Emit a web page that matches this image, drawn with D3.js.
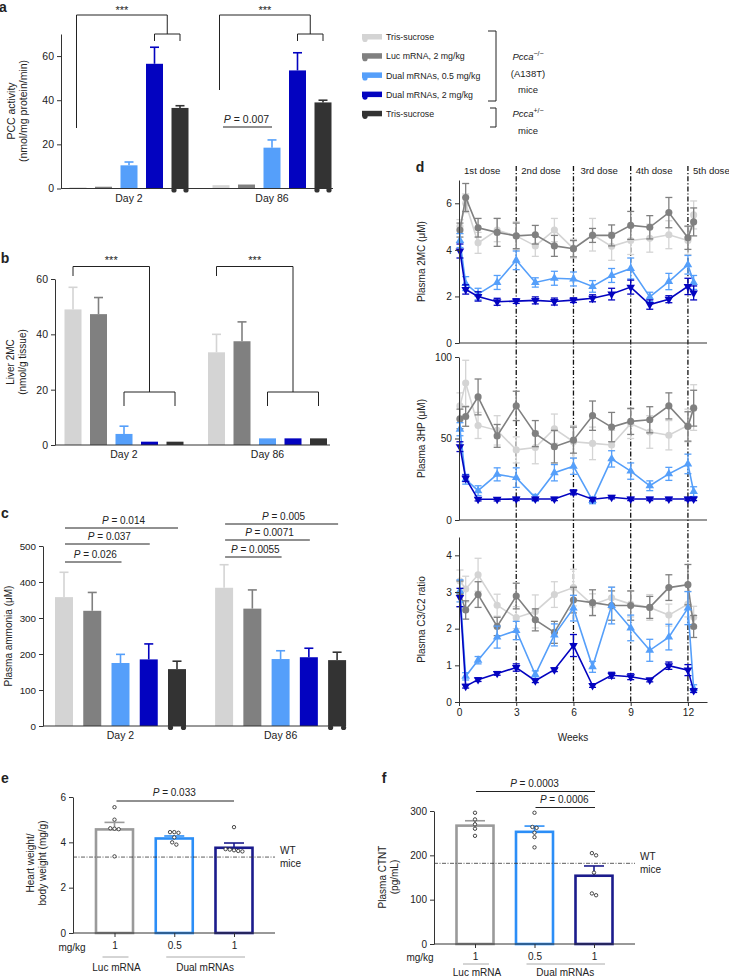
<!DOCTYPE html>
<meta charset="utf-8">
<script src="https://d3js.org/d3.v7.min.js"></script>
<style>
body { margin: 0; background: #fff; }
text { font-family: "Liberation Sans", Arial, sans-serif; fill: #222; }
</style>
<div id="fig"></div>
<script>

// ---- data ----
const days = ["Day 2", "Day 86"];
const groups = ["Tris-sucrose", "Luc mRNA, 2 mg/kg", "Dual mRNAs, 0.5 mg/kg", "Dual mRNAs, 2 mg/kg", "Tris-sucrose"];
const colours = ["#d4d4d4", "#808080", "#559ffa", "#0303c0", "#333333"];

// panel a: PCC activity (mean, error), per day
const pccMean = [[0.5, 0.8, 10.5, 56.5, 36.5], [1.5, 1.8, 18.5, 53.5, 39]];
const pccErr  = [[0, 0, 1.5, 7.5, 1], [0, 0, 3.5, 8, 1]];

// panel b: liver 2MC
const liverMean = [[49, 47.3, 4, 1.2, 1.2], [33.5, 37.5, 2.4, 2.4, 2.4]];
const liverErr  = [[8, 6, 2.8, 0, 0], [6.5, 7, 0, 0, 0]];

// panel c: plasma ammonia
const ammMean = [[358, 320, 175, 185, 158], [384, 326, 186, 191, 183]];
const ammErr  = [[69, 51, 24, 43, 22], [64, 52, 23, 25, 22]];
const ammP = [["0.026", "0.037", "0.014"], ["0.0055", "0.0071", "0.005"]];

// panel d: time course (weeks)
const weeks = [0.05, 0.35, 1, 2, 3, 4, 5, 6, 7, 8, 9, 10, 11, 12, 12.3];
const doses = ["1st dose", "2nd dose", "3rd dose", "4th dose", "5th dose"];
const doseWeeks = [3, 6, 9, 12];

const mc2 = [
  [5.0, 6.0, 4.3, 4.85, 4.6, 4.17, 4.85, 4.05, 4.65, 4.15, 4.4, 4.5, 4.65, 4.4, 5.5],
  [4.85, 6.25, 4.95, 4.75, 4.6, 4.65, 4.17, 4.05, 4.62, 4.62, 5.05, 4.97, 5.6, 4.52, 5.2],
  [4.4, 2.55, 2.1, 2.6, 3.55, 2.6, 2.78, 2.75, 2.43, 2.9, 3.2, 1.98, 2.64, 3.36, 2.6],
  [3.95, 2.3, 2.0, 1.77, 1.8, 1.83, 1.78, 1.84, 1.92, 2.1, 2.4, 1.65, 1.88, 2.43, 2.15]
];
const mc2Err = [
  [0.3, 0.4, 0.45, 0.5, 0.6, 0.45, 0.5, 0.4, 0.7, 0.6, 0.6, 0.6, 0.6, 0.6, 0.6],
  [0.3, 0.6, 0.4, 0.6, 0.55, 0.4, 0.45, 0.35, 0.3, 0.45, 0.6, 0.5, 0.65, 0.5, 0.6],
  [0.3, 0.3, 0.25, 0.3, 0.4, 0.2, 0.3, 0.3, 0.25, 0.3, 0.45, 0.2, 0.35, 0.4, 0.3],
  [0.3, 0.2, 0.2, 0.15, 0.1, 0.15, 0.15, 0.1, 0.15, 0.25, 0.3, 0.2, 0.15, 0.35, 0.3]
];
const hp3 = [
  [70, 84, 58, 55, 43, 44.5, 56, 48, 47, 46, 59, 54, 52, 58, 69],
  [62, 63.5, 75.5, 51.6, 70, 53, 45, 49, 64, 57, 60.5, 61.5, 70, 57.4, 68.6],
  [55.7, 25, 18, 28, 26, 13.7, 29, 33, 12, 37.5, 30, 21, 28.3, 34.4, 17.4],
  [45, 25.6, 12.7, 12.7, 12.9, 12.9, 12.9, 17, 12.7, 14, 12.9, 12.9, 12.9, 12.9, 12.9]
];
const hp3Err = [
  [8, 14, 8, 9, 8, 10, 9, 10, 10, 9, 9, 10, 9, 10, 14],
  [6, 6, 11, 7, 9, 8, 10, 8, 9, 9, 8, 8, 8, 9, 11],
  [4, 3, 3, 4, 6, 2, 5, 5, 2, 5, 5, 3, 4, 6, 3],
  [3, 2, 1, 1, 1, 1, 1, 1.5, 1, 1, 1, 1, 1, 1, 1]
];
const c3c2 = [
  [3.3, 3.08, 3.47, 2.64, 2.3, 2.47, 2.93, 3.12, 2.65, 2.84, 2.67, 2.58, 2.37, 2.67, 2.31],
  [2.95, 2.51, 2.93, 2.06, 2.89, 2.24, 1.9, 2.78, 2.71, 2.63, 2.63, 2.58, 3.12, 3.2, 2.06],
  [3.03, 0.7, 1.14, 1.77, 1.95, 0.75, 1.83, 2.56, 0.96, 2.63, 2.02, 1.41, 1.77, 2.56, 0.37],
  [2.85, 0.43, 0.61, 0.78, 0.94, 0.58, 0.88, 1.54, 0.45, 0.73, 0.69, 0.6, 0.99, 0.87, 0.31]
];
const c3c2Err = [
  [0.3, 0.35, 0.45, 0.3, 0.3, 0.45, 0.35, 0.5, 0.3, 0.3, 0.35, 0.35, 0.3, 0.35, 0.3],
  [0.35, 0.25, 0.35, 0.25, 0.35, 0.3, 0.3, 0.35, 0.35, 0.4, 0.4, 0.3, 0.35, 0.55, 0.3],
  [0.3, 0.1, 0.1, 0.3, 0.25, 0.1, 0.3, 0.35, 0.15, 0.5, 0.35, 0.3, 0.35, 0.45, 0.1],
  [0.25, 0.05, 0.05, 0.05, 0.1, 0.05, 0.05, 0.3, 0.05, 0.08, 0.08, 0.05, 0.1, 0.15, 0.05]
];

// panels e and f
const doseGroups = ["1", "0.5", "1"];
const efColours = ["#9a9a9a", "#2b8ef7", "#1b1b8c"];
const heartMean = [4.57, 4.17, 3.76];
const heartErr  = [0.31, 0.11, 0.21];
const heartDots = [[5.55, 5.0, 4.58, 4.6, 4.62, 3.38], [4.45, 4.42, 4.45, 4.22, 4.0, 3.9], [4.67, 3.68, 3.62, 3.65, 3.7, 3.6]];
const heartWT = 3.35;
const ctntMean = [267, 253, 154];
const ctntErr  = [11, 13, 22];
const ctntDots = [[296, 281, 270, 260, 244], [296, 264, 262, 251, 241, 218], [205, 200, 161, 114, 110]];
const ctntWT = 182;

// ---- drawing ----
const svg = d3.select("#fig").append("svg")
  .attr("width", 729).attr("height", 977);

function styleAxis(g, size) {
  g.attr("font-family", null).attr("font-size", null);
  g.select(".domain").attr("stroke", "#333");
  g.selectAll(".tick line").attr("stroke", "#333");
  g.selectAll(".tick text").attr("font-size", size || 10).attr("fill", "#222");
}

function yAxis(scale, x, ticks, size) {
  const g = svg.append("g").attr("transform", `translate(${x},0)`)
    .call(d3.axisLeft(scale).tickValues(ticks).tickFormat(d3.format("~g"))
      .tickSize(4).tickSizeOuter(0).tickPadding(3));
  styleAxis(g, size);
  return g;
}

function hline(x1, x2, y, col, w) {
  svg.append("line").attr("x1", x1).attr("x2", x2).attr("y1", y).attr("y2", y)
    .attr("stroke", col || "#222").attr("stroke-width", w || 1);
}
function vline(x, y1, y2, col, w) {
  svg.append("line").attr("x1", x).attr("x2", x).attr("y1", y1).attr("y2", y2)
    .attr("stroke", col || "#222").attr("stroke-width", w || 1);
}
function label(x, y, txt, opt) {
  opt = opt || {};
  const t = svg.append("text").attr("x", x).attr("y", y)
    .attr("font-size", opt.size || 10)
    .attr("text-anchor", opt.anchor || "middle")
    .text(txt);
  if (opt.bold) t.attr("font-weight", "bold");
  if (opt.rotate) t.attr("transform", `rotate(-90,${x},${y})`);
  return t;
}
function pLabel(x, y, val, size) {
  const t = svg.append("text").attr("x", x).attr("y", y)
    .attr("font-size", size || 10).attr("text-anchor", "middle");
  t.append("tspan").attr("font-style", "italic").text("P");
  t.append("tspan").text(" = " + val);
}

function barPanel(o) {
  const y = d3.scaleLinear().domain(o.domain).range(o.range);
  const xg = d3.scalePoint().domain(days).range(o.centers);
  const xi = d3.scalePoint().domain(d3.range(5)).range([-o.spread, o.spread]);
  const cx = (g, i) => xg(days[g]) + xi(i);
  const rows = [];
  o.mean.forEach((m, g) => m.forEach((v, i) => rows.push({g, i, v, e: o.err[g][i]})));

  svg.append("g").selectAll("rect").data(rows).join("rect")
    .attr("x", d => cx(d.g, d.i) - o.bw / 2)
    .attr("y", d => y(d.v))
    .attr("width", o.bw)
    .attr("height", d => y(0) - y(d.v))
    .attr("fill", d => colours[d.i]);

  const eb = svg.append("g").selectAll("g").data(rows.filter(d => d.e > 0)).join("g")
    .attr("stroke", d => colours[d.i]).attr("stroke-width", 1.6);
  eb.append("line").attr("x1", d => cx(d.g, d.i)).attr("x2", d => cx(d.g, d.i))
    .attr("y1", d => y(d.v)).attr("y2", d => y(d.v + d.e));
  eb.append("line").attr("x1", d => cx(d.g, d.i) - 4.5).attr("x2", d => cx(d.g, d.i) + 4.5)
    .attr("y1", d => y(d.v + d.e)).attr("y2", d => y(d.v + d.e));

  if (o.feet) {
    rows.filter(d => d.i === 4).forEach(d => {
      [-1, 1].forEach(s => svg.append("circle")
        .attr("cx", cx(d.g, d.i) + s * (o.bw / 2 - 2.5)).attr("cy", y(0) + 1.5)
        .attr("r", 2.6).attr("fill", colours[4]));
    });
  }

  yAxis(y, o.axisX, o.ticks, o.tickSize);
  hline(o.axisX, o.xEnd, y(0), "#333");
  days.forEach(d => label(xg(d), y(0) + 13, d, {size: 10.5}));
  return {y, cx};
}

// ---- panel a ----
label(3, 12, "a", {size: 14, bold: true, anchor: "middle"});
const pa = barPanel({domain: [0, 70], range: [188.5, 34], centers: [129, 272], spread: 51, bw: 17,
  mean: pccMean, err: pccErr, axisX: 61, xEnd: 333, ticks: [0, 20, 40, 60], feet: true, tickSize: 10.5});
label(15, 111, "PCC activity", {rotate: true, size: 10.5});
label(27, 111, "(nmol/mg protein/min)", {rotate: true, size: 10.5});
[[0, 128], [1, 90]].forEach(([g, y0]) => {
  const xl = pa.cx(g, 0) - 1.5, xm = (pa.cx(g, 3) + pa.cx(g, 4)) / 2;
  vline(xl, y0, 15); hline(xl, xm, 15); vline(xm, 15, 34);
  hline(pa.cx(g, 3), pa.cx(g, 4), 34); vline(pa.cx(g, 3), 34, 41); vline(pa.cx(g, 4), 34, 41);
  label((xl + xm) / 2, 14, "***", {size: 11});
});
hline(pa.cx(1, 0) + 2, pa.cx(1, 2), 127);
pLabel((pa.cx(1, 0) + pa.cx(1, 2)) / 2, 123, "0.007", 10.5);

// legend
groups.forEach((name, i) => {
  const cy = 37 + i * 19.2;
  svg.append("rect").attr("x", 362).attr("y", cy - 3).attr("width", 20).attr("height", 5.5)
    .attr("fill", colours[i]);
  svg.append("circle").attr("cx", 365).attr("cy", cy + 2.5).attr("r", 2.6).attr("fill", colours[i]);
  label(386, cy + 3.2, name, {anchor: "start", size: 8.8});
});
vline(496, 31, 101); hline(488, 496, 31); hline(488, 496, 101);
vline(496, 108, 127); hline(490, 496, 108); hline(490, 496, 127);
function pcca(y, sup) {
  const t = svg.append("text").attr("x", 528).attr("y", y).attr("font-size", 9.5).attr("text-anchor", "middle");
  t.append("tspan").attr("font-style", "italic").text("Pcca");
  t.append("tspan").attr("dy", -4).attr("font-size", 7).text(sup);
}
pcca(60, "−/−");
label(528, 77, "(A138T)", {size: 9.5});
label(528, 93, "mice", {size: 9.5});
pcca(117, "+/−");
label(528, 134, "mice", {size: 9.5});

// ---- panel b ----
label(5, 263, "b", {size: 14, bold: true});
const pb = barPanel({domain: [0, 60], range: [445, 279], centers: [124, 267.5], spread: 51, bw: 17,
  mean: liverMean, err: liverErr, axisX: 55, xEnd: 330, ticks: [0, 20, 40, 60], tickSize: 10.5});
label(14, 362, "Liver 2MC", {rotate: true});
label(26, 362, "(nmol/g tissue)", {rotate: true});
[0, 1].forEach(g => {
  const xl = pb.cx(g, 0), xm = pb.cx(g, 3);
  vline(xl, 276, 266.5); hline(xl, xm, 266.5); vline(xm, 266.5, 392);
  hline(pb.cx(g, 2), pb.cx(g, 4), 392); vline(pb.cx(g, 2), 392, 406); vline(pb.cx(g, 4), 392, 406);
  label((xl + xm) / 2, 264, "***", {size: 11});
});

// ---- panel c ----
label(5, 518, "c", {size: 14, bold: true});
const pc = barPanel({domain: [0, 500], range: [726, 546], centers: [120.5, 280.6], spread: 56.5, bw: 18,
  mean: ammMean, err: ammErr, axisX: 43, xEnd: 345, ticks: [0, 100, 200, 300, 400, 500], feet: true, tickSize: 9.8});
label(12, 636, "Plasma ammonia (\u03bcM)", {rotate: true});
[[562, 544, 528], [557, 540, 524]].forEach((ys, g) => {
  ys.forEach((yy, k) => {
    const x1 = pc.cx(g, 0) + 1, x2 = pc.cx(g, k + 2) + 1;
    hline(x1, x2, yy);
    pLabel((x1 + x2) / 2 + 2, yy - 4, ammP[g][k]);
  });
});

// ---- panel d ----
label(420, 172, "d", {size: 14, bold: true});
const xd = d3.scaleLinear().domain([0, 13]).range([459, 707]);
const subs = [
  {data: mc2, err: mc2Err, y: d3.scaleLinear().domain([0, 7]).range([343, 180]), ticks: [0, 2, 4, 6], lab: "Plasma 2MC (\u03bcM)"},
  {data: hp3, err: hp3Err, y: d3.scaleLinear().domain([0, 100]).range([520, 357]), ticks: [0, 50, 100], lab: "Plasma 3HP (\u03bcM)"},
  {data: c3c2, err: c3c2Err, y: d3.scaleLinear().domain([0, 4.5]).range([702, 537]), ticks: [0, 1, 2, 3, 4], lab: "Plasma C3/C2 ratio"}
];
const dCols = [colours[0], colours[1], colours[2], colours[3]];
const sym = [
  d3.symbol(d3.symbolCircle, 40),
  d3.symbol(d3.symbolCircle, 40),
  d3.symbol(d3.symbolTriangle, 32),
  d3.symbol(d3.symbolTriangle, 32)
];

// dose lines
doseWeeks.forEach(w => {
  svg.append("line").attr("x1", xd(w)).attr("x2", xd(w)).attr("y1", 166).attr("y2", 702)
    .attr("stroke", "#111").attr("stroke-width", 1.3).attr("stroke-dasharray", "5,2,1.2,2");
});
const doseX = [0, 3, 6, 9, 12];
doses.forEach((d, i) => label(xd(doseX[i]) + (i === 2 ? 7 : 5), 174, d, {size: 9.6, anchor: "start"}));

subs.forEach((s, k) => {
  const y = s.y;
  s.data.forEach((ser, j) => {
    const pts = ser.map((v, i) => ({w: weeks[i], v, e: s.err[j][i]}));
    const g = svg.append("g").attr("stroke", dCols[j]).attr("fill", dCols[j]);
    g.selectAll("line.eb").data(pts).join("line").attr("class", "eb")
      .attr("x1", d => xd(d.w)).attr("x2", d => xd(d.w))
      .attr("y1", d => y(d.v - d.e)).attr("y2", d => y(d.v + d.e)).attr("stroke-width", 1.3);
    [-1, 1].forEach(sg => {
      g.selectAll("line.cap" + (sg + 1)).data(pts).join("line").attr("class", "cap" + (sg + 1))
        .attr("x1", d => xd(d.w) - 3.5).attr("x2", d => xd(d.w) + 3.5)
        .attr("y1", d => y(d.v + sg * d.e)).attr("y2", d => y(d.v + sg * d.e)).attr("stroke-width", 1.3);
    });
    g.append("path").datum(pts)
      .attr("d", d3.line().x(d => xd(d.w)).y(d => y(d.v)))
      .attr("fill", "none").attr("stroke-width", 1.6);
    g.selectAll("path.m").data(pts).join("path").attr("class", "m")
      .attr("d", sym[j]).attr("stroke", "none")
      .attr("transform", d => `translate(${xd(d.w)},${y(d.v)})${j === 3 ? " rotate(180)" : ""}`);
  });
  yAxis(y, 459, s.ticks, 10.2);
  label(425, (y.range()[0] + y.range()[1]) / 2, s.lab, {rotate: true});
  if (k < 2) {
    hline(459, 707, y(0), "#333");
  } else {
    const g = svg.append("g").attr("transform", `translate(0,${y(0)})`)
      .call(d3.axisBottom(xd).tickValues([0, 3, 6, 9, 12]).tickSize(4).tickSizeOuter(0));
    styleAxis(g, 10.2);
  }
});
label(573, 741, "Weeks");

// ---- panels e and f ----
function dotPanel(o) {
  const y = d3.scaleLinear().domain(o.domain).range(o.range);
  const x = d3.scalePoint().domain(d3.range(3)).range(o.centers);
  const bw = 37;
  o.mean.forEach((m, i) => {
    svg.append("rect").attr("x", x(i) - bw / 2).attr("y", y(m)).attr("width", bw).attr("height", y(0) - y(m))
      .attr("fill", "#fff").attr("stroke", efColours[i]).attr("stroke-width", 2.6);
    vline(x(i), y(m), y(m + o.err[i]), efColours[i], 1.6);
    hline(x(i) - 10, x(i) + 10, y(m + o.err[i]), efColours[i], 1.6);
  });
  // WT reference line
  svg.append("line").attr("x1", o.axisX).attr("x2", o.xEnd).attr("y1", y(o.wt)).attr("y2", y(o.wt))
    .attr("stroke", "#333").attr("stroke-width", 0.8).attr("stroke-dasharray", "4,1.5,1,1.5");
  label(o.xEnd + 5, y(o.wt) - 3, "WT", {anchor: "start"});
  label(o.xEnd + 5, y(o.wt) + 10, "mice", {anchor: "start"});
  // individual points: spread points that sit close together
  o.dots.forEach((vals, i) => {
    const sorted = vals.slice().sort((a, b) => b - a);
    const clusters = [];
    sorted.forEach(v => {
      const last = clusters[clusters.length - 1];
      if (last && Math.abs(y(last[last.length - 1]) - y(v)) < 4) last.push(v); else clusters.push([v]);
    });
    clusters.forEach(c => c.forEach((v, k) => {
      svg.append("circle").attr("cx", x(i) + (k - (c.length - 1) / 2) * 4.2).attr("cy", y(v))
        .attr("r", 1.7).attr("fill", "#fff").attr("stroke", "#333").attr("stroke-width", 0.9);
    }));
  });
  yAxis(y, o.axisX, o.ticks);
  const g = svg.append("g").attr("transform", `translate(0,${y(0)})`)
    .call(d3.axisBottom(x).tickSize(4).tickSizeOuter(0).tickPadding(5).tickFormat(i => doseGroups[i]));
  styleAxis(g);
  g.select(".domain").attr("d", `M${o.axisX},0H${o.xEnd}`);
  label(o.mgX, y(0) + o.mgDy, "mg/kg");
  hline(x(0) - 12, x(0) + 14, y(0) + o.lineDy, "#aaa", 1);
  hline(x(1) - 8, x(2) + 11, y(0) + o.lineDy, "#aaa", 1);
  label(x(0) + 2, y(0) + o.nameDy, "Luc mRNA");
  label((x(1) + x(2)) / 2 + 1, y(0) + o.nameDy, "Dual mRNAs");
  return {y, x};
}

label(5, 783, "e", {size: 14, bold: true});
const pe = dotPanel({domain: [0, 6], range: [933, 797], centers: [114.5, 234], axisX: 73, xEnd: 275,
  ticks: [0, 2, 4, 6], mean: heartMean, err: heartErr, dots: heartDots, wt: heartWT, mgX: 72,
  mgDy: 17.5, lineDy: 24, nameDy: 38});
label(34, 863, "Heart weight/", {rotate: true});
label(46, 863, "body weight (mg/g)", {rotate: true});
hline(pe.x(0) + 2, pe.x(2), 801);
pLabel((pe.x(0) + pe.x(2)) / 2, 796, "0.033");

label(384, 783, "f", {size: 14, bold: true});
const pf = dotPanel({domain: [0, 300], range: [944, 811], centers: [475, 594], axisX: 434, xEnd: 635,
  ticks: [0, 100, 200, 300], mean: ctntMean, err: ctntErr, dots: ctntDots, wt: ctntWT, mgX: 420,
  mgDy: 16.5, lineDy: 20, nameDy: 31.5});
label(386, 877, "Plasma CTNT", {rotate: true});
label(398, 877, "(pg/mL)", {rotate: true});
hline(pf.x(0) + 1, pf.x(2) + 1, 791.5);
pLabel((pf.x(0) + pf.x(2)) / 2, 787, "0.0003");
hline(pf.x(1) + 1, pf.x(2) + 1, 807.5);
pLabel((pf.x(1) + pf.x(2)) / 2, 803, "0.0006");

</script>
